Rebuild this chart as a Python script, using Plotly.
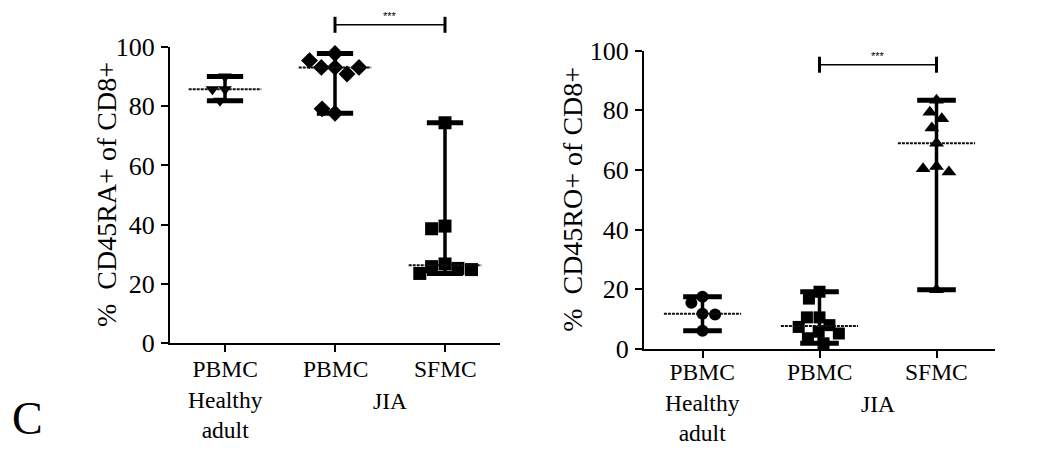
import math
import statistics
import plotly.graph_objects as go

# ---------------- data ----------------
categories = ["PBMC<br>Healthy<br>adult", "PBMC", "SFMC"]
group_label = "JIA"
y_ticks = [0, 20, 40, 60, 80, 100]

ra_healthy = [90.0, 85.7, 85.7, 81.8]
ra_jia_pbmc = [97.8, 93.1, 93.1, 90.9, 93.1, 95.4, 77.6, 79.1]
ra_jia_sfmc = [74.4, 39.5, 38.6, 26.7, 25.8, 25.2, 23.5, 24.8]

ro_healthy = [17.5, 15.5, 11.8, 11.6, 6.1]
ro_jia_pbmc = [19.2, 16.9, 10.6, 10.6, 8.0, 7.4, 5.8, 5.2, 3.6, 1.9]
ro_jia_sfmc = [83.4, 79.4, 77.2, 74.1, 69.0, 61.2, 60.4, 59.3, 19.9]

ra_title = "%  CD45RA+ of CD8+"
ro_title = "%  CD45RO+ of CD8+"
sig_text = "***"
ra_sig_level = 107.5
ro_sig_level = 95.3
panel_letter = "C"

# ---------------- layout constants (page pixels) ----------------
OFF = 8                      # body margin of the html page
W, H = 1057 - OFF, 450 - OFF
SERIF = "Liberation Serif, Times New Roman, serif"
CAT_FONT = 23.5


def fx(px):
    return (px - OFF) / W


def fy(py):
    return (H - (py - OFF)) / H


left_x = (fx(170), fx(500))
left_y = (fy(343), fy(47))
right_x = (fx(644), fx(995))
right_y = (fy(349), fy(50.7))

fig = go.Figure()


def swarm(values, px_per_unit, d):
    placed, offsets = [], []
    for v in values:
        y = v * px_per_unit
        cands = [0.0]
        for xo, yo in placed:
            dy = abs(y - yo)
            if dy < d:
                dx = math.sqrt(d * d - dy * dy)
                cands += [xo + dx, xo - dx]
        cands.sort(key=lambda c: (abs(c), c))
        chosen = 0.0
        for c in cands:
            if all((c - xo) ** 2 + (y - yo) ** 2 >= d * d - 1e-6 for xo, yo in placed):
                chosen = c
                break
        placed.append((chosen, y))
        offsets.append(chosen)
    return offsets


def add_group(xa, ya, i, vals, symbol, msize, px_cat, px_unit):
    offs = swarm(vals, px_unit, msize * 1.05)
    xs = [i + o / px_cat for o in offs]
    fig.add_trace(go.Scatter(x=xs, y=vals, mode="markers", xaxis=xa, yaxis=ya,
                             marker=dict(symbol=symbol, size=msize, color="black",
                                         line=dict(width=0)),
                             cliponaxis=False, showlegend=False, hoverinfo="y"))
    lo, hi, med = min(vals), max(vals), statistics.median(vals)
    fig.add_trace(go.Scatter(x=[i, i], y=[lo, hi], mode="lines",
                             line=dict(color="black", width=3.5),
                             xaxis=xa, yaxis=ya, showlegend=False, hoverinfo="skip"))
    for v in (lo, hi):
        fig.add_trace(go.Scatter(x=[i - 0.165, i + 0.165], y=[v, v], mode="lines",
                                 line=dict(color="black", width=5),
                                 xaxis=xa, yaxis=ya, showlegend=False, hoverinfo="skip"))
    fig.add_trace(go.Scatter(x=[i - 0.33, i + 0.33], y=[med, med], mode="lines",
                             line=dict(color="#111111", width=2, dash="3px,1px"),
                             xaxis=xa, yaxis=ya, showlegend=False, hoverinfo="skip"))


px_cat_l = (left_x[1] - left_x[0]) * W / 3
px_unit_l = (left_y[1] - left_y[0]) * H / 100
px_cat_r = (right_x[1] - right_x[0]) * W / 3
px_unit_r = (right_y[1] - right_y[0]) * H / 100

add_group("x", "y", 0, ra_healthy, "triangle-down", 12, px_cat_l, px_unit_l)
add_group("x", "y", 1, ra_jia_pbmc, "diamond", 13, px_cat_l, px_unit_l)
add_group("x", "y", 2, ra_jia_sfmc, "square", 13, px_cat_l, px_unit_l)
add_group("x2", "y2", 0, ro_healthy, "circle", 12, px_cat_r, px_unit_r)
add_group("x2", "y2", 1, ro_jia_pbmc, "square", 12, px_cat_r, px_unit_r)
add_group("x2", "y2", 2, ro_jia_sfmc, "triangle-up", 13, px_cat_r, px_unit_r)

axis_common = dict(showline=True, linecolor="black", linewidth=2, ticks="outside",
                   ticklen=7, tickwidth=2, tickcolor="black", showgrid=False,
                   zeroline=False, automargin=False,
                   tickfont=dict(family=SERIF, size=26, color="black"))

fig.update_layout(
    width=W, height=H, margin=dict(l=0, r=0, t=0, b=0, autoexpand=False),
    paper_bgcolor="white", plot_bgcolor="white",
    xaxis=dict(domain=list(left_x), range=[-0.5, 2.5], tickvals=[0, 1, 2],
               showticklabels=False, anchor="y", **axis_common),
    yaxis=dict(domain=list(left_y), range=[0, 100], tickvals=y_ticks, anchor="x",
               ticklabelstandoff=1, **axis_common),
    xaxis2=dict(domain=list(right_x), range=[-0.5, 2.5], tickvals=[0, 1, 2],
                showticklabels=False, anchor="y2", **axis_common),
    yaxis2=dict(domain=list(right_y), range=[0, 100], tickvals=y_ticks, anchor="x2",
                ticklabelstandoff=1, **axis_common),
)


def xp(dom, i):
    return dom[0] + (i + 0.5) / 3 * (dom[1] - dom[0])


def yp(dom, v):
    return dom[0] + v / 100 * (dom[1] - dom[0])


line_h = 1.3 * CAT_FONT
shapes = []
annotations = []
panels = [
    ("x", left_x, left_y, ra_sig_level, 370.5, 106, ra_title),
    ("x2", right_x, right_y, ro_sig_level, 373, 573, ro_title),
]
for xref, xd, yd, lvl, first_row, title_x, title in panels:
    yb = yp(yd, lvl)
    x1, x2 = xp(xd, 1), xp(xd, 2)
    shapes.append(dict(type="line", xref="paper", yref="paper", x0=x1, x1=x2, y0=yb, y1=yb,
                       line=dict(color="black", width=1.5)))
    for xx in (x1, x2):
        shapes.append(dict(type="line", xref="paper", yref="paper", x0=xx, x1=xx,
                           y0=yb - 8 / H, y1=yb + 8 / H, line=dict(color="black", width=3)))
    annotations.append(dict(text=sig_text, xref="paper", yref="paper", x=(x1 + x2) / 2,
                            y=yb + 9 / H, xanchor="center", yanchor="middle", showarrow=False,
                            borderpad=0,
                            font=dict(family="Liberation Sans, Arial", size=11, color="black")))
    top = fy(first_row - line_h / 2)
    for i, lab in enumerate(categories):
        annotations.append(dict(text=lab, xref=xref, yref="paper", x=i, y=top,
                                xanchor="center", yanchor="top", showarrow=False,
                                borderpad=0, align="center",
                                font=dict(family=SERIF, size=CAT_FONT, color="black")))
    annotations.append(dict(text=group_label, xref=xref, yref="paper", x=1.5,
                            y=fy(first_row + line_h), xanchor="center", yanchor="middle",
                            showarrow=False, borderpad=0,
                            font=dict(family=SERIF, size=CAT_FONT, color="black")))
    annotations.append(dict(text=title, xref="paper", yref="paper", x=fx(title_x),
                            y=yp(yd, 50), textangle=-90, xanchor="center", yanchor="middle",
                            showarrow=False, font=dict(family=SERIF, size=28, color="black")))

annotations.append(dict(text=panel_letter, xref="paper", yref="paper", x=fx(27),
                        y=fy(418), xanchor="center", yanchor="middle",
                        showarrow=False, font=dict(family=SERIF, size=46, color="black")))

fig.update_layout(shapes=shapes, annotations=annotations)
fig.write_html("out.html")
